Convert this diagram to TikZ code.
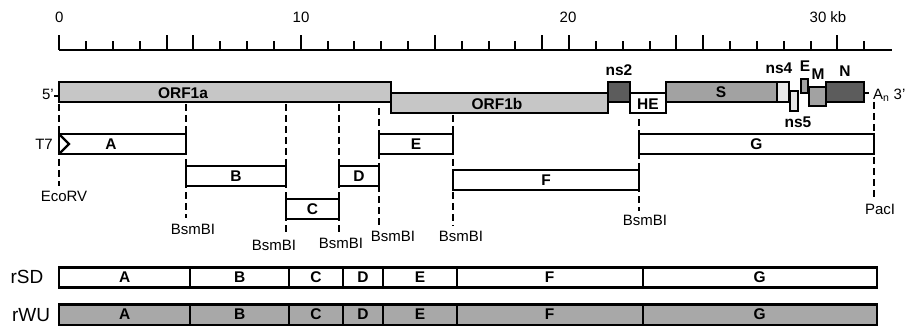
\documentclass[tikz,border=0pt]{standalone}
\usepackage{fontspec}
\setmainfont{Liberation Sans}
\usetikzlibrary{positioning}

\definecolor{orfgray}{HTML}{C6C6C6}
\definecolor{darkgene}{HTML}{5C5C5C}
\definecolor{midgene}{HTML}{A2A2A2}
\definecolor{palegene}{HTML}{E8E8E8}
\definecolor{wugray}{HTML}{A8A8A8}

\begin{document}
\begin{tikzpicture}[x=1pt,y=-1pt,
  lbl/.style={font=\fontsize{15}{18}\selectfont, inner sep=0pt},
  blbl/.style={font=\bfseries\fontsize{15.5}{18}\selectfont, inner sep=0pt},
  rowlbl/.style={font=\fontsize{19}{22}\selectfont, inner sep=0pt},
  gene/.style={draw=black, line width=2.1pt},
  frag/.style={draw=black, line width=2.1pt, fill=white},
  cut/.style={line width=2pt, dash pattern=on 7pt off 4pt}]
  \useasboundingbox (0,0) rectangle (905,326);

  % kb scale
  \draw[line width=2.2pt] (59.3,50) -- (892,50);
  \foreach \i in {1,...,30}
    \draw[line width=2pt] (59.3+26.83*\i,50) -- ++(0,-9);
  \foreach \i in {0,4,5,9,14,18,19,23,24,29}
    \draw[line width=2pt] (59.3+26.83*\i,50) -- ++(0,-15);
  \node[lbl] (k0) at (59.3,17) {0};
  \node[lbl] (k10) at (301,17) {10};
  \node[lbl] (k20) at (568,17) {20};
  \node[lbl] (k30) at (828,17) {30 kb};

  % cut sites (dashed)
  \coordinate (ecoT) at (59,104);   \node[lbl] (ecorv) at (64,196) {EcoRV};
  \coordinate (bsA) at (186,104);   \node[lbl] (bsmA) at (193,229) {BsmBI};
  \coordinate (bsB) at (286,104);   \node[lbl] (bsmB) at (274,245) {BsmBI};
  \coordinate (bsC) at (339,104);   \node[lbl] (bsmC) at (341,243) {BsmBI};
  \coordinate (bsD) at (379,108);   \node[lbl] (bsmD) at (393,236) {BsmBI};
  \coordinate (bsE) at (453,115);   \node[lbl] (bsmE) at (461,236) {BsmBI};
  \coordinate (bsF) at (639,119);   \node[lbl] (bsmF) at (645,220) {BsmBI};
  \coordinate (pacT) at (874,102);  \node[lbl] (paci) at (880,209) {PacI};
  \draw[cut] (ecoT) -- (59,186);
  \draw[cut] (bsA) -- (186,218);
  \draw[cut] (bsB) -- (286,234);
  \draw[cut] (bsC) -- (339,233);
  \draw[cut] (bsD) -- (379,225);
  \draw[cut] (bsE) -- (453,226);
  \draw[cut] (bsF) -- (639,211);
  \draw[cut] (pacT) -- (874,199);

  % genome
  \draw[line width=2pt] (54,96) -- (59,96);
  \node[lbl, anchor=east] (five) at (54,94) {5’};
  \draw[gene, fill=orfgray] (59,82) rectangle (391,102);
  \node[blbl] (orf1a) at (183,93) {ORF1a};
  \draw[gene, fill=orfgray] (391,93) rectangle (608,113);
  \node[blbl] (orf1b) at (497,104) {ORF1b};
  \draw[gene, fill=darkgene] (608,82) rectangle (630,102);
  \node[blbl] (ns2) at (619,70) {ns2};
  \draw[gene, fill=white] (630,93) rectangle (666,113);
  \node[blbl] (he) at (648,104) {HE};
  \draw[gene, fill=midgene] (666,82) rectangle (777,102);
  \node[blbl] (s) at (721,92) {S};
  \draw[gene, fill=palegene] (777,82) rectangle (789,102);
  \node[blbl] (ns4) at (779,68) {ns4};
  \draw[gene, fill=palegene] (790,91) rectangle (798,111);
  \node[blbl] (ns5) at (798,122) {ns5};
  \draw[gene, fill=midgene] (801,79) rectangle (808,93);
  \node[blbl] (e) at (805,66) {E};
  \draw[gene, fill=midgene] (809,87) rectangle (826,106);
  \node[blbl] (m) at (818,74) {M};
  \draw[gene, fill=darkgene] (826,82) rectangle (864,102);
  \node[blbl] (n) at (845,71) {N};
  \draw[line width=2pt] (864,93) -- (869,93);
  \node[lbl, anchor=west] (an) at (873,95) {A\textsubscript{n} 3’};

  % cDNA fragments
  \draw[frag] (59,134) rectangle (186,154);
  \draw[line width=2.2pt] (59,134) -- (69,144) -- (59,154);
  \node[lbl, anchor=east] (t7) at (53,144) {T7};
  \node[blbl] (fA) at (111,144) {A};
  \draw[frag] (186,166) rectangle (286,186);
  \node[blbl] (fB) at (236,176) {B};
  \draw[frag] (286,199) rectangle (339,219);
  \node[blbl] (fC) at (312.5,209) {C};
  \draw[frag] (339,166) rectangle (379,186);
  \node[blbl] (fD) at (359,176) {D};
  \draw[frag] (379,134) rectangle (453,154);
  \node[blbl] (fE) at (416,144) {E};
  \draw[frag] (453,170) rectangle (639,190);
  \node[blbl] (fF) at (546,180) {F};
  \draw[frag] (639,134) rectangle (874,154);
  \node[blbl] (fG) at (756.5,144) {G};

  % assembled clones
  \node[rowlbl] (rsd) at (27,277) {rSD};
  \node[rowlbl] (rwu) at (31,315) {rWU};
  \foreach \nm/\a/\b in {A/59.3/190,B/190/289.3,C/289.3/342.7,D/342.7/383.3,E/383.3/456.7,F/456.7/642.7,G/642.7/876.7} {
    \draw[frag] (\a,267.5) rectangle (\b,287.5);
    \node[blbl] (sd\nm) at ({(\a+\b)/2},277.5) {\nm};
    \draw[frag, fill=wugray] (\a,304.5) rectangle (\b,324.8);
    \node[blbl] (wu\nm) at ({(\a+\b)/2},314.6) {\nm};
  }
\end{tikzpicture}
\end{document}
